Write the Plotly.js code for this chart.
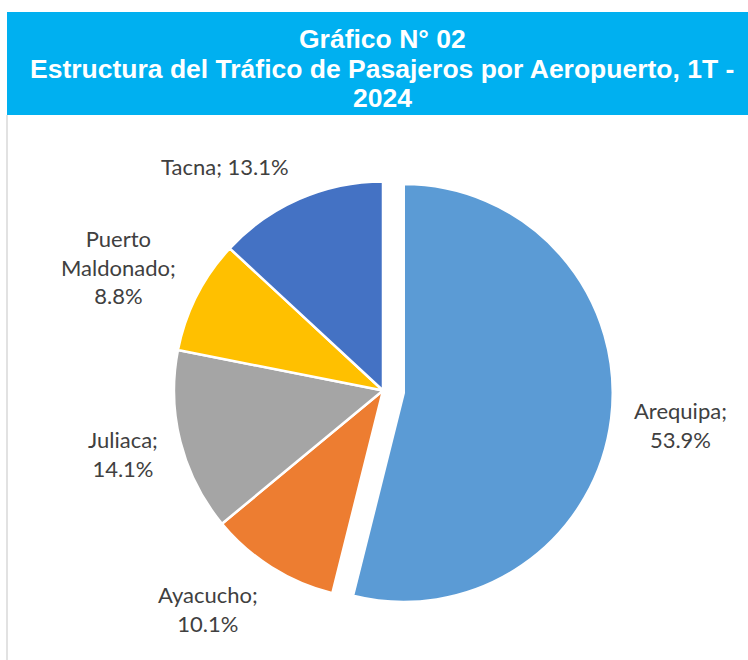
<!DOCTYPE html>
<html>
<head>
<meta charset="utf-8">
<script src="https://cdn.plot.ly/plotly-3.0.1.min.js"></script>
<style>html,body{margin:0;padding:0;background:#fff;}#chart{width:748px;height:660px;}</style>
</head>
<body>
<div id="chart"></div>
<script>
const categories = ["Arequipa", "Ayacucho", "Juliaca", "Puerto Maldonado", "Tacna"];
const labelLines = [["Arequipa;", "53.9%"], ["Ayacucho;", "10.1%"], ["Juliaca;", "14.1%"], ["Puerto", "Maldonado;", "8.8%"], ["Tacna; 13.1%"]];
const shares = [53.9, 10.1, 14.1, 8.8, 13.1];
const sliceColors = ["#5B9BD5", "#ED7D31", "#A5A5A5", "#FFC000", "#4472C4"];
const pulls = [0.1, 0, 0, 0, 0];
const titleLines = ["Gráfico N° 02", "Estructura del Tráfico de Pasajeros por Aeropuerto, 1T -", "2024"];

const W = 748, H = 660;
const cx = 383, cy = 390.5, r = 209;
const box = 2 * r * (1 + Math.max(...pulls));

const trace = {
  type: "pie",
  labels: categories,
  values: shares,
  textinfo: "none",
  sort: false,
  direction: "clockwise",
  rotation: 0,
  pull: pulls,
  marker: { colors: sliceColors, line: { color: "#FFFFFF", width: 2.5 } },
  domain: { x: [(cx - box / 2) / W, (cx + box / 2) / W], y: [1 - (cy + box / 2) / H, 1 - (cy - box / 2) / H] },
  automargin: false,
  showlegend: false,
  hoverinfo: "label+percent"
};

// data labels placed outside each slice, following its mid-angle
const total = shares.reduce((a, b) => a + b, 0);
const gap = 21, lineH = 28.6;
let cum = 0;
const labelAnns = shares.map((v, i) => {
  const mid = (cum + v / 2) / total * 2 * Math.PI;
  cum += v;
  const dx = Math.sin(mid), dy = -Math.cos(mid);
  const ox = cx + pulls[i] * r * dx, oy = cy + pulls[i] * r * dy;
  const ax = ox + (r + gap) * dx, ay = oy + (r + gap) * dy;
  const h = labelLines[i].length * lineH;
  const centerY = ay + dy * h / 2;
  return {
    text: labelLines[i].join("<br>"),
    xref: "paper", yref: "paper",
    x: ax / W, y: 1 - centerY / H,
    xanchor: dx < 0 ? "right" : "left", yanchor: "middle",
    align: "center", showarrow: false,
    font: { family: "Lato, 'Open Sans', sans-serif", size: 22, color: "#404040" }
  };
});

const titleCenters = [39, 69, 98];
const titleAnns = titleLines.map((t, i) => ({
  text: "<b>" + t + "</b>",
  xref: "paper", yref: "paper",
  x: 382 / W, xanchor: "center",
  y: 1 - titleCenters[i] / H, yanchor: "middle",
  showarrow: false,
  font: { family: "'Liberation Sans', Arial, sans-serif", size: 26.5, color: "#FFFFFF" }
}));

const layout = {
  width: W, height: H,
  margin: { l: 0, r: 0, t: 0, b: 0 },
  paper_bgcolor: "#FFFFFF",
  showlegend: false,
  annotations: titleAnns.concat(labelAnns),
  shapes: [
    { type: "rect", xref: "paper", yref: "paper", x0: 7 / W, x1: 1, y0: 1 - 115 / H, y1: 1 - 12 / H,
      fillcolor: "#00B0F0", line: { width: 0 }, layer: "below" },
    { type: "line", xref: "paper", yref: "paper", x0: 7 / W, x1: 7 / W, y0: 0, y1: 1 - 115 / H,
      line: { color: "#D9D9D9", width: 1.5 } }
  ]
};

Plotly.newPlot("chart", [trace], layout, { displayModeBar: false, staticPlot: true });
</script>
</body>
</html>
